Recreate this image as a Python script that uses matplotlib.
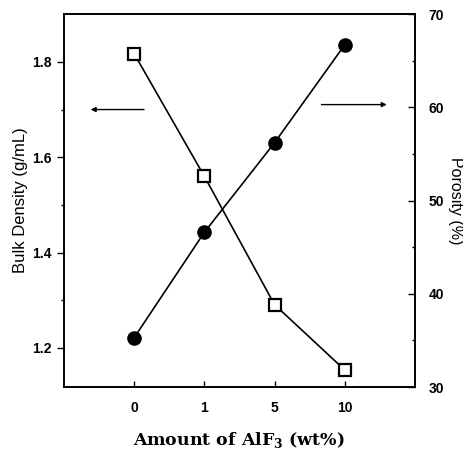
import matplotlib
matplotlib.use('Agg')
import matplotlib.pyplot as plt

# data
amount_labels = ['0', '1', '5', '10']
bulk_density = [1.817, 1.56, 1.291, 1.154]   # g/mL, squares, left axis
porosity = [35.3, 46.6, 56.2, 66.7]          # %, circles, right axis

x = list(range(len(amount_labels)))

fig = plt.figure(figsize=(4.64, 4.57), dpi=100)
ax = fig.add_axes([0.138, 0.153, 0.756, 0.816])
ax2 = ax.twinx()

ax.plot(x, bulk_density, color='black', lw=1.2, marker='s', ms=8.5,
        mfc='white', mec='black', mew=1.6, zorder=3)
ax2.plot(x, porosity, color='black', lw=1.2, marker='o', ms=9.5,
         mfc='black', mec='black', zorder=3)

ax.set_xlim(-1, 4)
ax.set_ylim(1.118, 1.90)
ax2.set_ylim(30, 70)

ax.set_xticks(x)
ax.set_xticklabels(amount_labels)
ax.set_yticks([1.2, 1.4, 1.6, 1.8])
ax.set_yticks([1.3, 1.5, 1.7], minor=True)
ax2.set_yticks([30, 40, 50, 60, 70])
ax2.set_yticks([35, 45, 55, 65], minor=True)

for lab in ax.get_xticklabels() + ax.get_yticklabels() + ax2.get_yticklabels():
    lab.set_fontfamily('Liberation Sans')
    lab.set_fontsize(10)
    lab.set_fontweight('bold')

ax.tick_params(axis='x', direction='in', length=4, width=1, pad=10)
ax.tick_params(axis='y', which='major', direction='out', length=5, width=1, pad=4)
ax.tick_params(axis='y', which='minor', direction='out', length=2.5, width=1)
ax2.tick_params(axis='y', which='major', direction='in', length=5, width=1, pad=10)
ax2.tick_params(axis='y', which='minor', direction='in', length=2.5, width=1)

for a in (ax, ax2):
    for s in a.spines.values():
        s.set_linewidth(1.2)

ax.set_ylabel('Bulk Density (g/mL)', family='Liberation Sans', size=12, va='center')
ax.yaxis.set_label_coords(-0.125, 0.5)
ax2.set_ylabel('Porosity (%)', family='Liberation Sans', size=11.5, rotation=-90,
               va='center')
ax2.yaxis.set_label_coords(1.117, 0.5)
ax.set_xlabel('Amount of AlF$_\\mathregular{3}$ (wt%)', family='DejaVu Serif',
              size=12.5, weight='bold', va='center')
ax.xaxis.set_label_coords(0.5, -0.142)

# arrows pointing to each series' axis
ax.annotate('', xy=(-0.66, 1.70), xytext=(0.18, 1.70),
            arrowprops=dict(arrowstyle='-|>', color='black', lw=1, mutation_scale=7))
ax2.annotate('', xy=(3.64, 60.3), xytext=(2.63, 60.3),
             arrowprops=dict(arrowstyle='-|>', color='black', lw=1, mutation_scale=7))

fig.savefig('out.png', dpi=100)
